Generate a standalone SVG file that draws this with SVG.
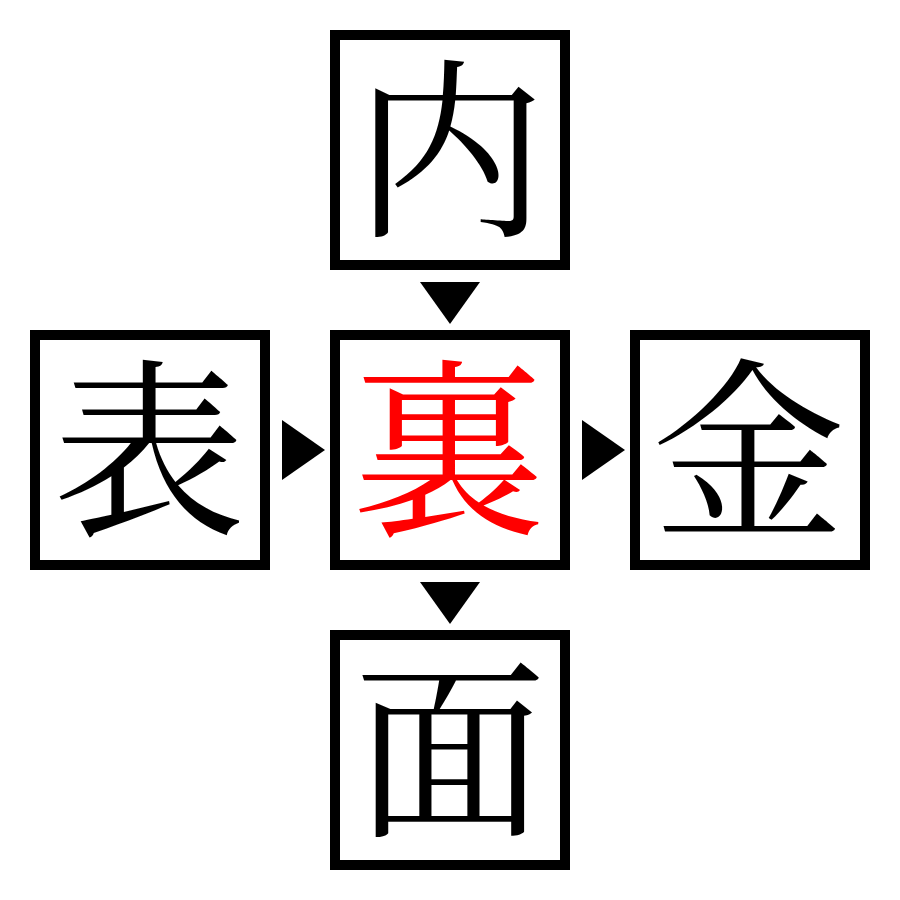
<svg xmlns="http://www.w3.org/2000/svg" width="900" height="900" viewBox="0 0 900 900">
<style>
.box{fill:#fff;stroke:#000;stroke-width:10}
.ch{font-family:"Noto Serif CJK JP","Noto Sans CJK JP",serif;font-size:193px;text-anchor:middle;dominant-baseline:central;fill:#000}
.red{fill:#ff0000}
.arr{fill:#000}
</style>
<rect width="900" height="900" fill="#fff"/>
<g id="node-top"><rect class="box" x="335" y="35" width="230" height="230"/><text class="ch" x="450" y="138">内</text></g>
<g id="node-left"><rect class="box" x="35" y="335" width="230" height="230"/><text class="ch" x="149" y="438">表</text></g>
<g id="node-center"><rect class="box" x="335" y="335" width="230" height="230"/><text class="ch red" x="449" y="438">裏</text></g>
<g id="node-right"><rect class="box" x="635" y="335" width="230" height="230"/><text class="ch" x="749" y="438">金</text></g>
<g id="node-bottom"><rect class="box" x="335" y="635" width="230" height="230"/><text class="ch" x="450" y="738">面</text></g>
<g id="connectors">
<polygon class="arr" points="420,282 480,282 450,324"/>
<polygon class="arr" points="282,420 282,480 325,450"/>
<polygon class="arr" points="582,420 582,480 625,450"/>
<polygon class="arr" points="420,582 480,582 450,624"/>
</g>
</svg>
